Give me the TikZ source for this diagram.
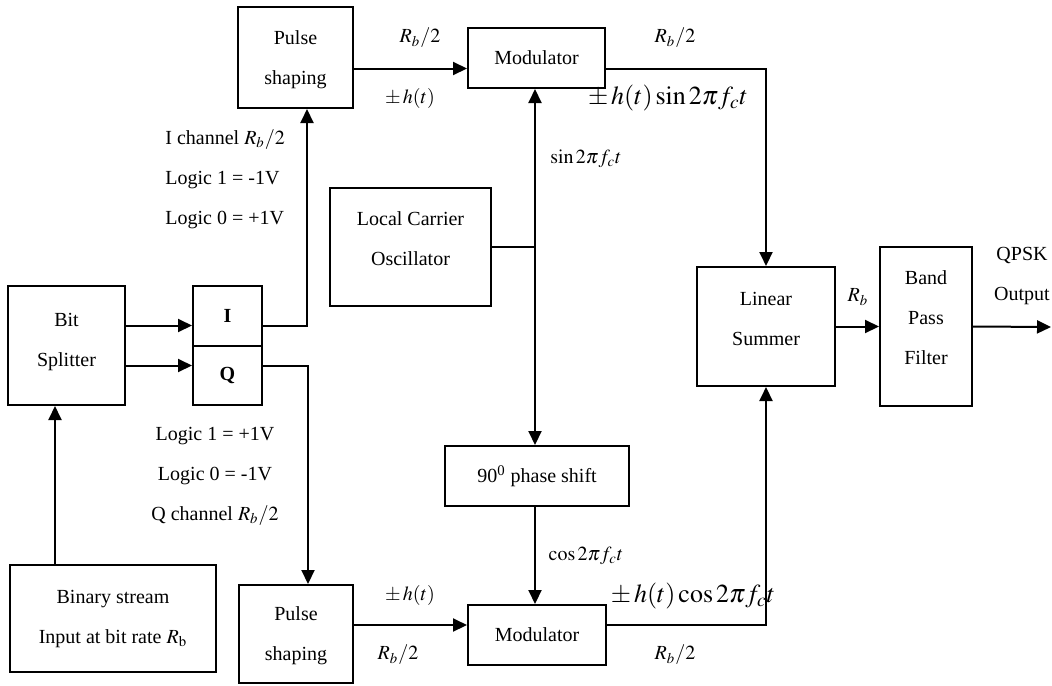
\documentclass[tikz,border=0pt]{standalone}
\usepackage{mathptmx}
\usepackage{fontspec}
\setmainfont{Liberation Serif}
\usepackage{tikz}
\usetikzlibrary{arrows.meta}
\tikzset{block/.style = {shape=rectangle,draw,line width=1pt,align=center,inner sep=0pt,font=\fontsize{10}{20}\selectfont}}
\tikzset{edge/.style = {-{Triangle[length=7pt,width=6.5pt]},line width=1pt}}
\tikzset{wire/.style = {line width=1pt}}
\tikzset{lbl/.style = {inner sep=0pt,font=\fontsize{10}{20}\selectfont}}
\tikzset{biglbl/.style = {inner sep=0pt,font=\fontsize{13}{15}\selectfont}}

\begin{document}
\begin{tikzpicture}[x=0.5pt, y=-0.5pt]
                    \useasboundingbox (0,0) rectangle (1052,685);

                    \node[block, minimum width=57.5pt, minimum height=50.5pt, text depth=0pt] (pulsei) at (295.5,57.5) {Pulse\\shaping};
                    \node[block, minimum width=68.5pt, minimum height=30pt] (modi) at (536.5,58) {Modulator};
                    \node[block, minimum width=80.5pt, minimum height=59pt, text depth=8pt] (lco) at (410.5,247) {Local Carrier\\Oscillator};
                    \node[block, minimum width=58.5pt, minimum height=59.5pt, text depth=6pt] (bits) at (66.5,345.5) {Bit\\Splitter};
                    \node[block, minimum width=34.5pt, minimum height=30pt] (ibox) at (227.5,316) {\textbf{I}};
                    \node[block, minimum width=34.5pt, minimum height=29.5pt] (qbox) at (227.5,375.5) {\textbf{Q}};
                    \node[block, minimum width=103pt, minimum height=53.5pt] (binary) at (113,618.5) {Binary stream\\Input at bit rate $R_\mathrm{b}$};
                    \node[block, minimum width=57pt, minimum height=49pt, text depth=0pt] (pulseq) at (296,634) {Pulse\\shaping};
                    \node[block, minimum width=92pt, minimum height=30pt] (shift) at (537,476) {90\textsuperscript{0} phase shift};
                    \node[block, minimum width=69pt, minimum height=30pt] (modq) at (537,635) {Modulator};
                    \node[block, minimum width=69pt, minimum height=59.5pt, text depth=8pt] (summer) at (766,326.5) {Linear\\Summer};
                    \node[block, minimum width=46pt, minimum height=79.5pt, text depth=9pt] (bpf) at (926,326.5) {Band\\Pass\\Filter};

                    \coordinate (ibend) at (307,326);
                    \coordinate (qbend) at (308,366);
                    \coordinate (tap) at (535,247);
                    \coordinate (sumtop) at (766,68.5);
                    \coordinate (sumbot) at (766,625);
                    \coordinate (qpskout) at (1051,327);

                    \draw[edge] ([xshift=-5.75pt]bits.south |- binary.north) -- ([xshift=-5.75pt]bits.south);
                    \draw[edge] ([yshift=10pt]bits.east) -- ([yshift=10pt]bits.east -| ibox.west);
                    \draw[edge] ([yshift=-10pt]bits.east) -- ([yshift=-10pt]bits.east -| qbox.west);
                    \draw[edge] (ibox.east |- ibend) -- (ibend) -- (ibend |- pulsei.south);
                    \draw[edge] (qbox.east |- qbend) -- (qbend) -- (qbend |- pulseq.north);
                    \draw[edge] ([yshift=-5.5pt]pulsei.east) -- ([yshift=-5.5pt]pulsei.east -| modi.west);
                    \draw[edge] ([yshift=4.5pt]pulseq.east) -- ([yshift=4.5pt]pulseq.east -| modq.west);
                    \draw[wire] (lco.east) -- (tap);
                    \draw[edge] (tap) -- (tap |- modi.south);
                    \draw[edge] (tap) -- (tap |- shift.north);
                    \draw[edge] (tap |- shift.south) -- (tap |- modq.north);
                    \draw[edge] (modi.east |- sumtop) -- (sumtop) -- (summer.north);
                    \draw[edge] (modq.east |- sumbot) -- (sumbot) -- (summer.south);
                    \draw[edge] (summer.east) -- (bpf.west);
                    \draw[edge] (bpf.east) -- (qpskout);

                    \node[lbl] (rbia) at (420,38) {$R_b/2$};
                    \node[lbl] (hia) at (410,98) {$\pm\, h(t)$};
                    \node[lbl] (rbib) at (675,38) {$R_b/2$};
                    \node[biglbl] (hsin) at (668,98) {$\pm\, h(t)\sin 2\pi f_c t$};
                    \node[lbl] (sinc) at (586,159) {$\sin 2\pi f_c t$};
                    \node[lbl, anchor=west, align=left] (ichan) at (165,179) {I channel $R_b/2$\\Logic 1 = -1V\\Logic 0 = +1V};
                    \node[lbl, align=center] (qchan) at (215,476) {Logic 1 = +1V\\Logic 0 = -1V\\Q channel $R_b/2$};
                    \node[lbl] (cosc) at (586,556) {$\cos 2\pi f_c t$};
                    \node[lbl] (hqa) at (410,595) {$\pm\, h(t)$};
                    \node[lbl] (rbqa) at (398,655) {$R_b/2$};
                    \node[lbl] (rbqb) at (675,655) {$R_b/2$};
                    \node[biglbl] (hcos) at (693,596) {$\pm\, h(t)\cos 2\pi f_c t$};
                    \node[lbl] (rbs) at (858,297) {$R_b$};
                    \node[lbl, align=center] (qpsk) at (1022,276) {QPSK\\Output};
                \end{tikzpicture}
\end{document}
